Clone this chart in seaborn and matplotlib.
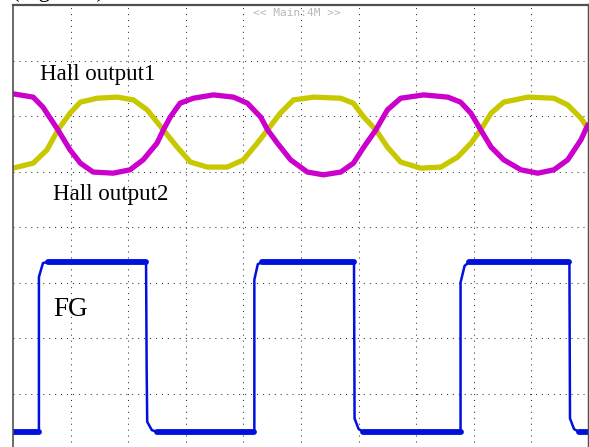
import numpy as np
import pandas as pd
import matplotlib
matplotlib.use("Agg")
import matplotlib.pyplot as plt
import seaborn as sns

# Oscilloscope capture, units are screen divisions (10 x 8 grid)
# Hall output1 (magenta trace)
hall1_t = [0.00, 0.35, 0.52, 0.78, 0.99, 1.17, 1.39, 1.74, 2.03, 2.26, 2.50, 2.61, 2.73,
           2.90, 3.13, 3.48, 3.83, 4.07, 4.30, 4.42, 4.59, 4.82, 5.11, 5.39, 5.69, 5.91,
           6.09, 6.30, 6.50, 6.73, 7.13, 7.55, 7.77, 7.95, 8.12, 8.30, 8.52, 8.82, 9.11,
           9.39, 9.63, 9.86, 9.98]
hall1_v = [6.40, 6.34, 6.16, 5.75, 5.39, 5.15, 4.99, 4.97, 5.03, 5.21, 5.51, 5.75, 5.98,
           6.23, 6.32, 6.38, 6.34, 6.23, 5.98, 5.75, 5.51, 5.21, 4.99, 4.94, 4.99, 5.15,
           5.44, 5.75, 6.11, 6.32, 6.38, 6.34, 6.25, 6.05, 5.75, 5.44, 5.21, 5.03, 4.97,
           5.03, 5.21, 5.57, 5.84]

# Hall output2 (yellow trace)
hall2_t = [0.00, 0.35, 0.59, 0.78, 0.99, 1.17, 1.46, 1.81, 2.09, 2.33, 2.61, 2.85, 3.08,
           3.37, 3.72, 4.00, 4.24, 4.42, 4.64, 4.87, 5.22, 5.69, 5.91, 6.09, 6.30, 6.50,
           6.73, 7.08, 7.43, 7.72, 7.95, 8.12, 8.30, 8.52, 8.94, 9.39, 9.63, 9.86, 9.98]
hall2_v = [5.06, 5.15, 5.39, 5.75, 6.05, 6.25, 6.32, 6.34, 6.29, 6.11, 5.75, 5.44, 5.17,
           5.08, 5.08, 5.21, 5.51, 5.75, 6.05, 6.29, 6.34, 6.32, 6.23, 5.98, 5.75, 5.44,
           5.17, 5.06, 5.08, 5.26, 5.51, 5.75, 6.05, 6.25, 6.34, 6.32, 6.20, 5.96, 5.78]

# FG square wave (blue trace)
fg_low, fg_high = 0.31, 3.37
fg_t = [0.00, 0.45, 0.45, 0.52, 0.60, 2.31, 2.32, 2.33, 2.41, 2.50, 4.19, 4.19, 4.25, 4.33,
        5.92, 5.93, 6.00, 6.08, 7.77, 7.77, 7.84, 7.92, 9.66, 9.67, 9.74, 9.82, 10.00]
fg_v = [fg_low, fg_low, 3.10, 3.35, fg_high, fg_high, 1.50, 0.49, 0.34, fg_low, fg_low, 3.05,
        3.33, fg_high, fg_high, 0.55, 0.36, fg_low, fg_low, 3.00, 3.30, fg_high, fg_high,
        0.55, 0.36, fg_low, fg_low]

labels = ["Hall output1", "Hall output2", "FG"]
MAGENTA = "#cc00cc"
YELLOW = "#c8c800"
BLUE = "#0010dd"

sns.set_style("white")
plt.rcParams['font.family'] = ['Liberation Serif', 'DejaVu Serif']

fig = plt.figure(figsize=(5.89, 4.47), dpi=100)
ax = fig.add_axes([13 / 589, -2 / 447, 576 / 589, 444 / 447])

# thick noisy-looking flats of FG: split into segments that sit on a level
fg = pd.DataFrame({"t": fg_t, "v": fg_v})
on_level = fg["v"].isin([fg_low, fg_high])
seg = (on_level != on_level.shift()).cumsum()
flats = fg[on_level].assign(seg=seg[on_level])
flats = flats.groupby("seg").filter(lambda g: len(g) > 1)

line_kw = dict(sort=False, estimator=None, ax=ax, solid_joinstyle="round")
sns.lineplot(x=hall2_t, y=hall2_v, color=YELLOW, lw=3.8, **line_kw)
sns.lineplot(x=hall1_t, y=hall1_v, color=MAGENTA, lw=3.8, **line_kw)
sns.lineplot(data=fg, x="t", y="v", color=BLUE, lw=1.8, **line_kw)
sns.lineplot(data=flats, x="t", y="v", units="seg", color=BLUE, lw=4.2, **line_kw)

ax.set_xlim(0, 10)
ax.set_ylim(0, 8)
ax.set_xticks(np.arange(1, 10))
ax.set_yticks(np.arange(1, 8))
ax.set_xticklabels([])
ax.set_yticklabels([])
ax.tick_params(length=0)
ax.set_xlabel("")
ax.set_ylabel("")
ax.set_axisbelow(True)
ax.grid(True, color="#333333", lw=0.75, linestyle=(0, (1, 4.7)))
for side, sp in ax.spines.items():
    sp.set_visible(True)
    sp.set_color("#505050")
    sp.set_linewidth(1.2)
ax.spines["right"].set_linewidth(2.5)
ax.spines["top"].set_linewidth(1.6)

ax.text(0.47, 6.65, labels[0], fontsize=16.5, color="black", va="baseline", ha="left")
ax.text(0.70, 4.49, labels[1], fontsize=16.5, color="black", va="baseline", ha="left")
ax.text(0.70, 2.40, labels[2], fontsize=19.5, color="black", va="baseline", ha="left")
ax.text(4.92, 7.86, "<< Main:4M >>", fontsize=8, color="#b8b8b8",
        family="DejaVu Sans Mono", ha="center", va="center")

# caption of the page, mostly cut off by the top edge
fig.text(12 / 589, 1 + 3.5 / 447, "(Figure 8)", fontsize=16.5, color="black",
         va="baseline", ha="left")

fig.savefig("out.png", dpi=100)
